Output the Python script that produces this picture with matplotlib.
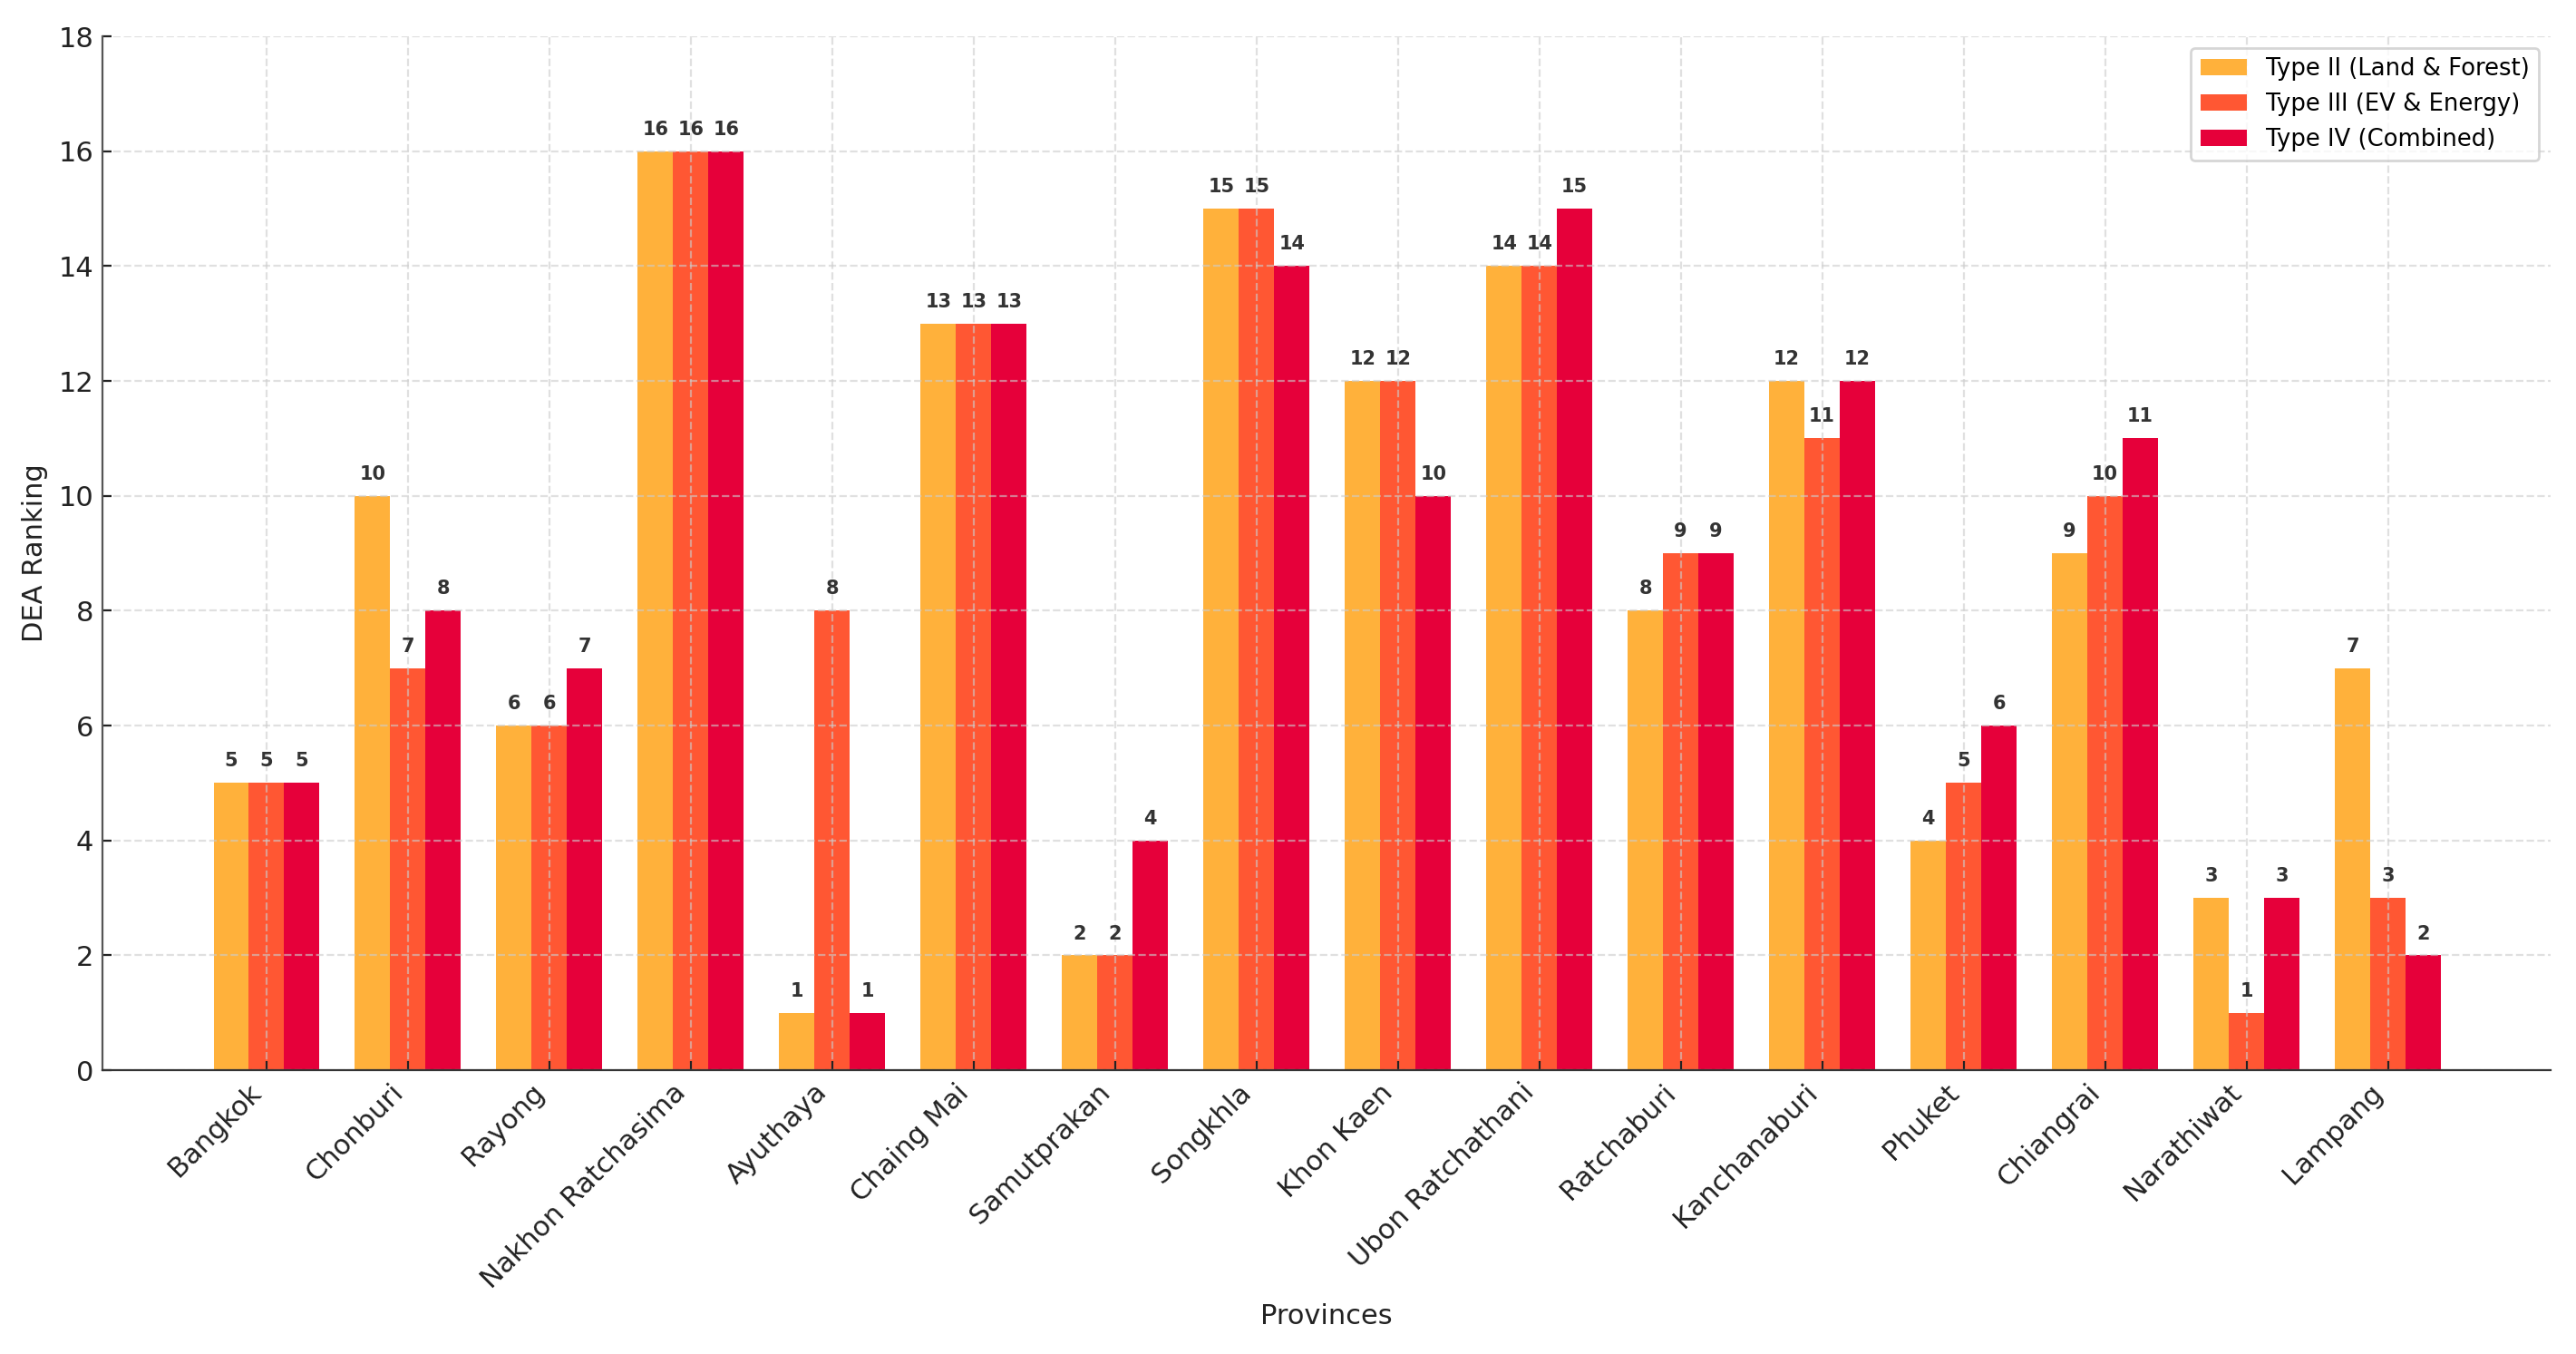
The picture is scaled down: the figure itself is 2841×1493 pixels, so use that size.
import numpy as np
import matplotlib
matplotlib.use("Agg")
import matplotlib.pyplot as plt

provinces = ["Bangkok", "Chonburi", "Rayong", "Nakhon Ratchasima", "Ayuthaya",
             "Chaing Mai", "Samutprakan", "Songkhla", "Khon Kaen",
             "Ubon Ratchathani", "Ratchaburi", "Kanchanaburi", "Phuket",
             "Chiangrai", "Narathiwat", "Lampang"]
type2 = [5, 10, 6, 16, 1, 13, 2, 15, 12, 14, 8, 12, 4, 9, 3, 7]
type3 = [5, 7, 6, 16, 8, 13, 2, 15, 12, 14, 9, 11, 5, 10, 1, 3]
type4 = [5, 8, 7, 16, 1, 13, 4, 14, 10, 15, 9, 12, 6, 11, 3, 2]
series_labels = ["Type II (Land & Forest)", "Type III (EV & Energy)",
                 "Type IV (Combined)"]
colors = ["#FFB13B", "#FF5733", "#E6003A"]

fig = plt.figure(figsize=(14.205, 7.465), dpi=200)
ax = fig.add_axes([0.0398, 0.2096, 0.9503, 0.7636])

x = np.arange(len(provinces))
w = 0.25
for i, (vals, lab, col) in enumerate(zip([type2, type3, type4], series_labels, colors)):
    bars = ax.bar(x + (i - 1) * w, vals, w, color=col, label=lab)
    for b, v in zip(bars, vals):
        ax.annotate(str(v), (b.get_x() + b.get_width() / 2, b.get_height()),
                    xytext=(0, 5), textcoords="offset points",
                    ha="center", va="bottom", fontsize=7.5,
                    fontweight="bold", color="#333333")

ax.set_xlim(-1.16, 16.15)
ax.set_ylim(0, 18)
ax.set_yticks(range(0, 19, 2))
ax.set_xticks(x)
ax.set_xticklabels(provinces, rotation=45, ha="right")
ax.tick_params(labelsize=11, colors="#222222", direction="in")
ax.set_xlabel("Provinces", fontsize=11, color="#222222")
ax.set_ylabel("DEA Ranking", fontsize=11, color="#222222")
ax.grid(True, linestyle="--", color="#cccccc", alpha=0.6, linewidth=0.8)
for s in ["top", "right"]:
    ax.spines[s].set_visible(False)
ax.spines["left"].set_color("#555555")
ax.spines["bottom"].set_color("#333333")
ax.legend(loc="upper right", fontsize=9.3)

fig.savefig("out.png", dpi=200)
